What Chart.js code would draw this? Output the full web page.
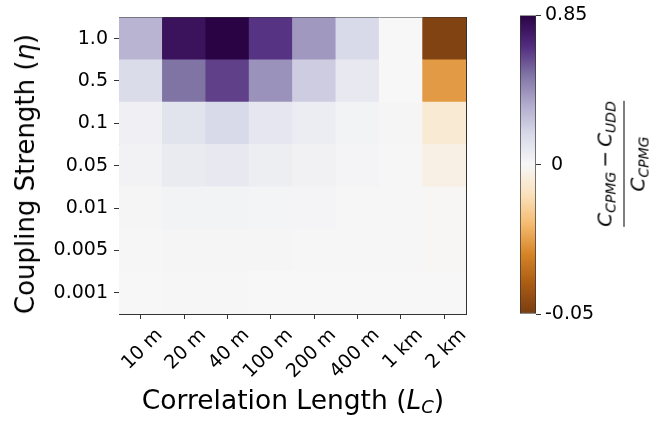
<!DOCTYPE html>
<html>
<head>
<meta charset="utf-8">
<script src="https://cdn.jsdelivr.net/npm/chart.js@4.4.0/dist/chart.umd.min.js"></script>
<style>
  body { margin: 0; background: #fff; width: 672px; height: 421px; position: relative; overflow: hidden; font-family: 'DejaVu Sans', sans-serif; color: #000; }
  .box { position: absolute; }
  .lbl { position: absolute; white-space: nowrap; transform: translate(-50%, -50%); }
  #ytitle { left: 25px; top: 174px; font-size: 26px; transform: translate(-50%, -50%) rotate(-90deg); }
  #xtitle { left: 293px; top: 400px; font-size: 26.5px; }
  #xtitle sub { font-size: 18px; vertical-align: -4px; }
  #cblabel { left: 624px; top: 164px; font-size: 20px; transform: translate(-50%, -50%) rotate(-90deg); display: flex; flex-direction: column; align-items: center; font-style: italic; }
  #cblabel sub { font-size: 14px; vertical-align: -4px; }
  #cblabel .num, #cblabel .den { line-height: 26px; }
  #cblabel .bar { width: 100%; border-top: 1.5px solid #000; }
  #cblabel .op { font-style: normal; margin: 0 4px; }
</style>
</head>
<body>
<div class="box" style="left:0;top:0;width:480px;height:421px"><canvas id="heat"></canvas></div>
<div class="box" style="left:500px;top:0;width:100px;height:421px"><canvas id="cbar"></canvas></div>
<div class="lbl" id="ytitle">Coupling Strength (<i>η</i>)</div>
<div class="lbl" id="xtitle">Correlation Length (<i>L</i><sub><i>C</i></sub>)</div>
<div class="lbl" id="cblabel">
  <div class="num">C<sub>CPMG</sub><span class="op">−</span>C<sub>UDD</sub></div>
  <div class="bar"></div>
  <div class="den">C<sub>CPMG</sub></div>
</div>
<script>
const lengths = ['10 m', '20 m', '40 m', '100 m', '200 m', '400 m', '1 km', '2 km'];
const couplings = ['1.0', '0.5', '0.1', '0.05', '0.01', '0.005', '0.001']; // top to bottom

// (C_CPMG - C_UDD) / C_CPMG, one array per coupling strength
const eta1    = [0.31, 0.78, 0.85, 0.66, 0.40, 0.17, 0.0, -0.048];
const eta05   = [0.16, 0.51, 0.63, 0.42, 0.22, 0.09, 0.0, -0.026];
const eta01   = [0.04, 0.12, 0.17, 0.10, 0.06, 0.025, 0.01, -0.006];
const eta005  = [0.03, 0.07, 0.09, 0.055, 0.035, 0.015, 0.005, -0.003];
const eta001  = [0.01, 0.025, 0.025, 0.02, 0.015, 0.008, 0.004, -0.0005];
const eta0005 = [0.004, 0.013, 0.013, 0.01, 0.008, 0.005, 0.003, -0.0003];
const eta0001 = [0.002, 0.003, 0.003, 0.002, 0.002, 0.001, 0.001, 0.0];

const cbarTicks = [-0.05, 0, 0.85];
const cbarTickLabels = ['-0.05', ' 0', '0.85'];

const vmin = -0.05, vmax = 0.85;
const font = 'DejaVu Sans';
const frame = '#333';

// PuOr colormap, slightly muted like the original render
const puorHex = ['#7f3b08', '#b35806', '#e08214', '#fdb863', '#fee0b6', '#f7f7f7',
                 '#d8daeb', '#b2abd2', '#8073ac', '#542788', '#2d004b'];

function hex2rgb(h) {
    return [1, 3, 5].map(i => parseInt(h.substr(i, 2), 16));
}

function mute(c, s) {
    const l = 0.299 * c[0] + 0.587 * c[1] + 0.114 * c[2];
    return c.map(v => Math.round(l + (v - l) * s));
}

const puor = puorHex.map(h => mute(hex2rgb(h), 0.86));

// two slope norm, centre at 0
function norm(v) {
    return v >= 0 ? 0.5 + 0.5 * v / vmax : 0.5 * (1 - v / vmin);
}

function colour(t) {
    t = Math.min(1, Math.max(0, t));
    const x = t * 10;
    const i = Math.min(9, Math.floor(x));
    const f = x - i;
    const a = puor[i], b = puor[i + 1];
    const c = a.map((v, k) => Math.round(v + (b[k] - v) * f));
    return 'rgb(' + c.join(',') + ')';
}

const rows = [eta1, eta05, eta01, eta005, eta001, eta0005, eta0001];
const rowsUp = rows.slice().reverse();
const couplingsUp = couplings.slice().reverse();

new Chart(document.getElementById('heat'), {
    type: 'bar',
    data: {
        labels: lengths,
        datasets: rowsUp.map((vals, i) => ({
            label: couplingsUp[i],
            data: vals.map(() => 1),
            backgroundColor: vals.map(v => colour(norm(v))),
            borderWidth: 0,
            barPercentage: 1,
            categoryPercentage: 1
        }))
    },
    options: {
        responsive: true,
        maintainAspectRatio: false,
        animation: false,
        layout: { padding: { top: 11, right: 14, left: 0, bottom: 0 } },
        plugins: { legend: { display: false }, tooltip: { enabled: false } },
        scales: {
            x: {
                stacked: true,
                grid: { offset: false, drawOnChartArea: false, tickLength: 5, color: frame },
                border: { color: frame, width: 1 },
                ticks: { minRotation: 45, maxRotation: 45, autoSkip: false, labelOffset: 19, padding: 5,
                         color: '#000', font: { family: font, size: 19 } },
                afterFit: s => { s.height = 107; }
            },
            y: {
                stacked: true,
                min: 0,
                max: 7,
                afterBuildTicks: s => { s.ticks = couplingsUp.map((_, i) => ({ value: i + 0.5 })); },
                grid: { drawOnChartArea: false, tickLength: 5, color: frame },
                border: { color: frame, width: 1 },
                ticks: { autoSkip: false, padding: 6, color: '#000', font: { family: font, size: 19 },
                         callback: v => couplingsUp[Math.floor(v)] },
                afterFit: s => { s.width = 119; }
            },
            x2: {
                type: 'category', position: 'top',
                ticks: { display: false }, grid: { display: false, drawTicks: false },
                border: { display: true, color: frame, width: 1 },
                afterFit: s => { s.height = 0; }
            },
            y2: {
                type: 'linear', position: 'right',
                ticks: { display: false }, grid: { display: false, drawTicks: false },
                border: { display: true, color: frame, width: 1 },
                afterFit: s => { s.width = 0; }
            }
        }
    }
});

new Chart(document.getElementById('cbar'), {
    type: 'bar',
    data: {
        labels: [''],
        datasets: [{
            data: [1],
            backgroundColor: ctx => {
                const area = ctx.chart.chartArea;
                if (!area) return null;
                const g = ctx.chart.ctx.createLinearGradient(0, area.bottom, 0, area.top);
                puor.forEach((c, i) => g.addColorStop(i / 10, 'rgb(' + c.join(',') + ')'));
                return g;
            },
            borderColor: frame,
            borderWidth: 1,
            borderSkipped: false,
            barPercentage: 1,
            categoryPercentage: 1
        }]
    },
    options: {
        responsive: true,
        maintainAspectRatio: false,
        animation: false,
        layout: { padding: { top: 12, left: 20, bottom: 107, right: 0 } },
        plugins: { legend: { display: false }, tooltip: { enabled: false } },
        scales: {
            x: { display: false },
            y: {
                position: 'right',
                min: 0,
                max: 1,
                afterBuildTicks: s => { s.ticks = cbarTicks.map(v => ({ value: norm(v) })); },
                grid: { drawOnChartArea: false, tickLength: 5, color: frame },
                border: { display: false },
                ticks: { autoSkip: false, padding: 4, color: '#000', font: { family: font, size: 19 },
                         callback: (v, i) => cbarTickLabels[i] },
                afterFit: s => { s.width = 64; }
            }
        }
    }
});
</script>
</body>
</html>
